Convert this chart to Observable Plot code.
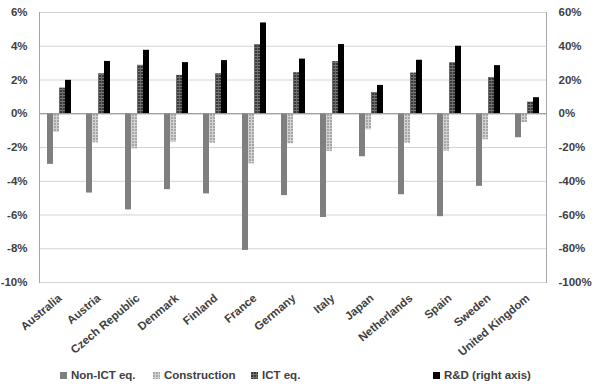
<!DOCTYPE html>
<html><head><meta charset="utf-8">
<script src="https://cdn.jsdelivr.net/npm/d3@7"></script>
<script src="https://cdn.jsdelivr.net/npm/@observablehq/plot@0.6"></script>
<style>
body{margin:0;background:#fff;font-family:"Liberation Sans",Arial,sans-serif;}
#wrap{position:relative;width:600px;height:390px;}
#legend{position:absolute;left:0;top:369px;width:600px;height:18px;font-size:11.5px;font-weight:bold;color:#404040;}
.li{position:absolute;top:0;display:flex;align-items:center;white-space:nowrap;}
.li svg{margin-right:4px;}
</style></head><body>
<div id="wrap"><div id="chart"></div><div id="legend"></div></div>
<script>
const countries = ["Australia","Austria","Czech Republic","Denmark","Finland","France","Germany","Italy","Japan","Netherlands","Spain","Sweden","United Kingdom"];
const nonICT       = [-3.0,-4.7,-5.7,-4.5,-4.75,-8.1,-4.85,-6.15,-2.55,-4.8,-6.1,-4.3,-1.42];
const construction = [-1.1,-1.72,-2.08,-1.68,-1.74,-2.97,-1.78,-2.24,-0.95,-1.74,-2.22,-1.54,-0.52];
const ictEq        = [1.52,2.37,2.87,2.27,2.37,4.1,2.43,3.09,1.26,2.41,3.03,2.15,0.69];
const rdRightAxis  = [19.8,31,37.6,30.3,31.5,53.8,32.4,41,16.8,31.7,40,28.5,9.5];
const seriesNames = ["Non-ICT eq.","Construction","ICT eq.","R&D (right axis)"];
const seriesFill = ["#7f7f7f","url(#patConstr)","url(#patICT)","#000000"];
const leftTicks = [-10,-8,-6,-4,-2,0,2,4,6];

const rows = [];
countries.forEach((c,i)=>{
  rows.push({country:c, series:seriesNames[0], value:nonICT[i]});
  rows.push({country:c, series:seriesNames[1], value:construction[i]});
  rows.push({country:c, series:seriesNames[2], value:ictEq[i]});
  rows.push({country:c, series:seriesNames[3], value:rdRightAxis[i]/10});
});

const chart = Plot.plot({
  width:600, height:366,
  marginLeft:39, marginRight:54, marginTop:12, marginBottom:84,
  style:{fontFamily:"Liberation Sans, Arial, sans-serif", fontSize:"11.5px", fontWeight:"bold", color:"#404040"},
  fx:{domain:countries, padding:0, label:null},
  x:{domain:seriesNames, axis:null, paddingInner:0, paddingOuter:0.8},
  y:{domain:[-10,6], label:null},
  marks:[
    Plot.ruleY(leftTicks, {stroke:"#d4d4d4", strokeWidth:1}),
    Plot.barY(rows, {fx:"country", x:"series", y:"value", fill:d=>seriesFill[seriesNames.indexOf(d.series)]}),
    Plot.ruleY([0], {stroke:"#8c8c8c", strokeWidth:1}),
    Plot.frame({anchor:"left", facetAnchor:"left", stroke:"#a6a6a6"}),
    Plot.frame({anchor:"right", facetAnchor:"right", stroke:"#a6a6a6"}),
    Plot.axisY(leftTicks, {anchor:"left", tickSize:0, tickPadding:12, tickFormat:d=>d+"%", label:null, fontWeight:"bold"}),
    Plot.axisY(leftTicks, {anchor:"right", tickSize:0, tickPadding:12, tickFormat:d=>(d*10)+"%", label:null, fontWeight:"bold"}),
    Plot.axisFx({anchor:"bottom", tickSize:0, tickPadding:4, tickRotate:-40, label:null, fontWeight:"bold", dy:10, dx:1})
  ]
});

const defs = document.createElementNS("http://www.w3.org/2000/svg","defs");
defs.innerHTML = `
<pattern id="patConstr" patternUnits="userSpaceOnUse" width="3" height="3">
  <rect width="3" height="3" fill="#a6a6a6"/>
  <rect x="0" y="2" width="3" height="1" fill="#d2d2d2"/>
  <rect x="2" y="0" width="1" height="3" fill="#d2d2d2"/>
</pattern>
<pattern id="patICT" patternUnits="userSpaceOnUse" width="3" height="3">
  <rect width="3" height="3" fill="#3a3a3a"/>
  <rect x="0" y="2" width="3" height="1" fill="#7a7a7a"/>
  <rect x="2" y="0" width="1" height="3" fill="#6a6a6a"/>
</pattern>`;
chart.insertBefore(defs, chart.firstChild);
document.getElementById("chart").appendChild(chart);

const legendPos = [60, 153, 251, 433];
const legend = document.getElementById("legend");
seriesNames.forEach((s,i)=>{
  const d = document.createElement("div");
  d.className = "li";
  d.style.left = legendPos[i]+"px";
  d.innerHTML = `<svg width="7" height="7"><rect width="7" height="7" fill="${seriesFill[i]}"/></svg><span>${s}</span>`;
  legend.appendChild(d);
});
</script>
</body></html>
